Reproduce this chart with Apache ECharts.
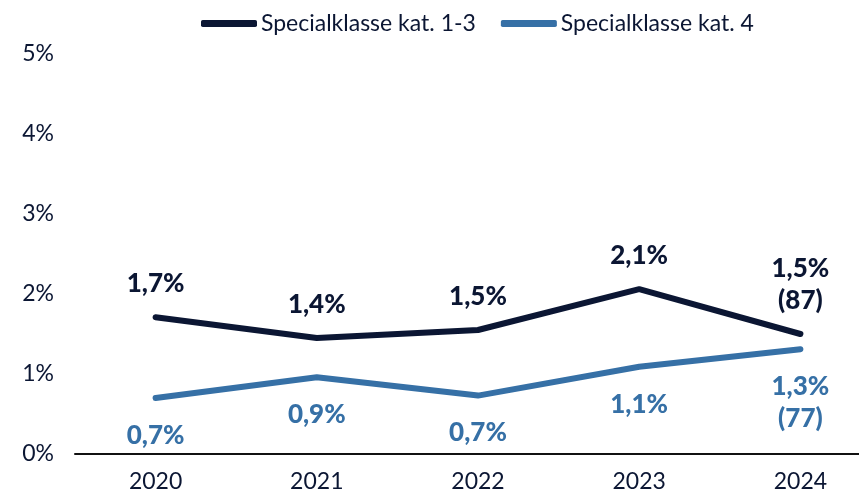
<!DOCTYPE html>
<html>
<head>
<meta charset="utf-8">
<script src="https://cdn.jsdelivr.net/npm/echarts@6/dist/echarts.min.js"></script>
<style>
  html, body { margin: 0; padding: 0; background: #fff; }
  #chart { width: 859px; height: 490px; }
</style>
</head>
<body>
<div id="chart"></div>
<script>
const years = ['2020', '2021', '2022', '2023', '2024']
const kat13 = [1.71, 1.45, 1.55, 2.06, 1.5]
const kat4 = [0.7, 0.96, 0.73, 1.09, 1.31]
const kat13Labels = ['1,7%', '1,4%', '1,5%', '2,1%', '1,5%\n(87)']
const kat4Labels = ['0,7%', '0,9%', '0,7%', '1,1%', '1,3%\n(77)']

const NAVY = '#0b1633'
const BLUE = '#3670a6'
const FONT = 'Lato'

const labelStyle = (color, texts, pos) => ({
  show: true,
  position: pos,
  distance: pos === 'top' ? 17 : 21,
  color: color,
  fontFamily: FONT,
  fontWeight: 900,
  fontSize: 26,
  lineHeight: 32,
  formatter: p => texts[p.dataIndex]
})

const option = {
  animation: false,
  grid: { left: 75, width: 806, top: 54, bottom: 36, outerBoundsMode: 'none' },
  legend: {
    top: 7,
    left: 196,
    icon: 'roundRect',
    itemWidth: 56,
    itemHeight: 7,
    itemGap: 25,
    textStyle: { color: NAVY, fontFamily: FONT, fontSize: 23, padding: [0, 0, 0, -1] },
    data: ['Specialklasse kat. 1-3', 'Specialklasse kat. 4']
  },
  xAxis: {
    type: 'category',
    data: years,
    axisLine: { lineStyle: { color: '#111', width: 2 } },
    axisTick: { show: false },
    axisLabel: { color: NAVY, fontFamily: FONT, fontSize: 23, margin: 16 }
  },
  yAxis: {
    type: 'value',
    min: 0,
    max: 5,
    interval: 1,
    splitLine: { show: false },
    axisLabel: {
      color: NAVY, fontFamily: FONT, fontSize: 23, margin: 21,
      formatter: v => v + '%'
    }
  },
  series: [
    {
      name: 'Specialklasse kat. 1-3',
      type: 'line',
      data: kat13,
      symbol: 'circle',
      symbolSize: 1,
      color: NAVY,
      lineStyle: { width: 6, cap: 'round', join: 'round' },
      label: labelStyle(NAVY, kat13Labels, 'top')
    },
    {
      name: 'Specialklasse kat. 4',
      type: 'line',
      data: kat4,
      symbol: 'circle',
      symbolSize: 1,
      color: BLUE,
      lineStyle: { width: 6, cap: 'round', join: 'round' },
      label: labelStyle(BLUE, kat4Labels, 'bottom')
    }
  ]
}

echarts.init(document.getElementById('chart')).setOption(option)
</script>
</body>
</html>
